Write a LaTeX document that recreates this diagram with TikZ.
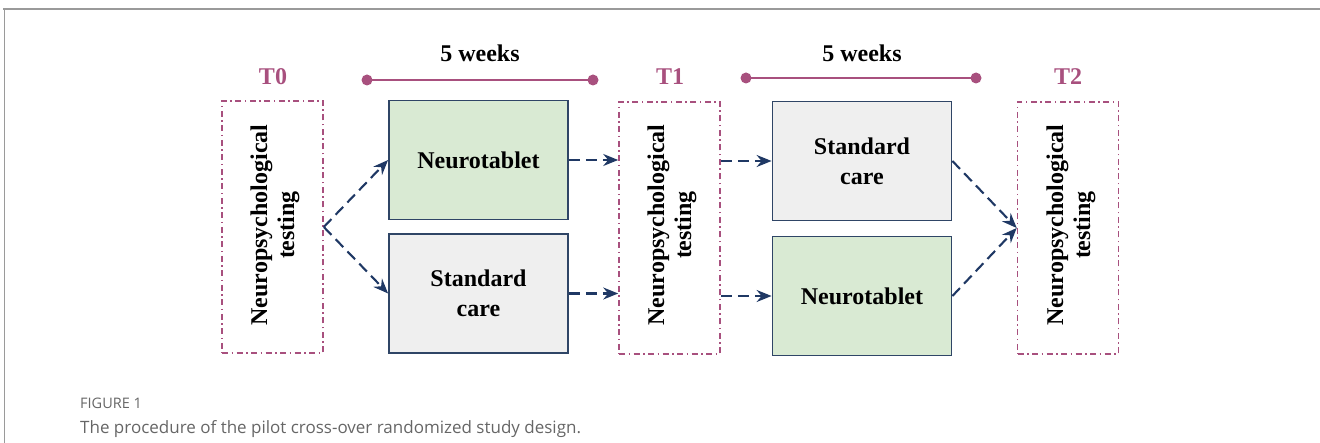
\documentclass[tikz,border=0pt]{standalone}
\usepackage{fontspec}
\setmainfont{Liberation Serif}
\newfontfamily\capfont{Open Sans}
\usetikzlibrary{arrows.meta}
\definecolor{plum}{HTML}{A8507E}
\definecolor{navy}{HTML}{1F3864}
\definecolor{boxline}{HTML}{2F4566}
\definecolor{greenfill}{HTML}{D9EAD3}
\definecolor{grayfill}{HTML}{EFEFEF}
\definecolor{capgray}{HTML}{666666}
\definecolor{framegray}{HTML}{9A9A9A}
\tikzset{
  testbox/.style={draw=plum, line width=1.6pt, dash pattern=on 6pt off 3.5pt on 1.5pt off 3.5pt, minimum width=101pt, minimum height=252pt, inner sep=0pt},
  treat/.style={draw=boxline, line width=1.8pt, minimum width=179pt, minimum height=119pt, inner sep=0pt, align=center, font=\fontsize{24}{30}\selectfont\bfseries},
  greenbox/.style={treat, fill=greenfill},
  graybox/.style={treat, fill=grayfill},
  vtext/.style={rotate=90, align=center, font=\fontsize{24}{27}\selectfont\bfseries},
  tlabel/.style={text=plum, font=\fontsize{24}{26}\selectfont\bfseries},
  wlabel/.style={font=\fontsize{24}{26}\selectfont\bfseries},
  flow/.style={draw=navy, line width=2.1pt, dash pattern=on 11pt off 6pt, -{Stealth[length=15pt,width=12pt,inset=5pt]}},
  timeline/.style={draw=plum, line width=2pt},
  tdot/.style={fill=plum, draw=none},
}
\begin{document}
\begin{tikzpicture}[x=1pt,y=-1pt]
\useasboundingbox (0,0) rectangle (1320,443);
% frame
\draw[framegray, line width=2pt] (3,9.5) -- (1320,9.5);
\draw[framegray, line width=1pt] (4,9.5) -- (4,443);

% test boxes
\node[testbox] (t0) at (272.5,227) {};
\node[vtext] (t0txt) at (275,225) {Neuropsychological\\testing};
\node[tlabel] (t0lab) at (273,77) {T0};
\node[testbox] (t1) at (669.5,228) {};
\node[vtext] (t1txt) at (672,225) {Neuropsychological\\testing};
\node[tlabel] (t1lab) at (670,77) {T1};
\node[testbox] (t2) at (1068,228) {};
\node[vtext] (t2txt) at (1071,225) {Neuropsychological\\testing};
\node[tlabel] (t2lab) at (1068,77) {T2};

% treatment boxes
\node[greenbox] (nt1) at (478.5,160) {Neurotablet};
\node[graybox] (sc1) at (478.5,293.5) {Standard\\care};
\node[graybox] (sc2) at (862,161) {Standard\\care};
\node[greenbox] (nt2) at (862,296) {Neurotablet};

% timelines
\coordinate (a1) at (367,80);
\coordinate (a2) at (593,80);
\coordinate (b1) at (746,78);
\coordinate (b2) at (976,78);
\draw[timeline] (a1) -- (a2);
\fill[tdot] (a1) circle (5.5pt) (a2) circle (5.5pt);
\draw[timeline] (b1) -- (b2);
\fill[tdot] (b1) circle (5.5pt) (b2) circle (5.5pt);
\node[wlabel] (w1) at (480,53) {5 weeks};
\node[wlabel] (w2) at (862,53) {5 weeks};

% flows
\draw[flow] (t0.east) -- (nt1.west);
\draw[flow] (t0.east) -- (sc1.west);
\draw[flow] (nt1.east) -- (nt1.east -| t1.west);
\draw[flow] (sc1.east) -- (sc1.east -| t1.west);
\draw[flow] (t1.east |- sc2.west) -- (sc2.west);
\draw[flow] (t1.east |- nt2.west) -- (nt2.west);
\draw[flow] (sc2.east) -- (t2.west);
\draw[flow] (nt2.east) -- (t2.west);

% caption
\node[anchor=base west, inner sep=0pt, text=capgray, font=\capfont\fontsize{14.5}{16}\selectfont] (fig) at (80,409) {FIGURE 1};
\node[anchor=base west, inner sep=0pt, text=capgray, font=\capfont\fontsize{17}{20}\selectfont] (cap) at (80,433) {The procedure of the pilot cross-over randomized study design.};
\end{tikzpicture}
\end{document}
